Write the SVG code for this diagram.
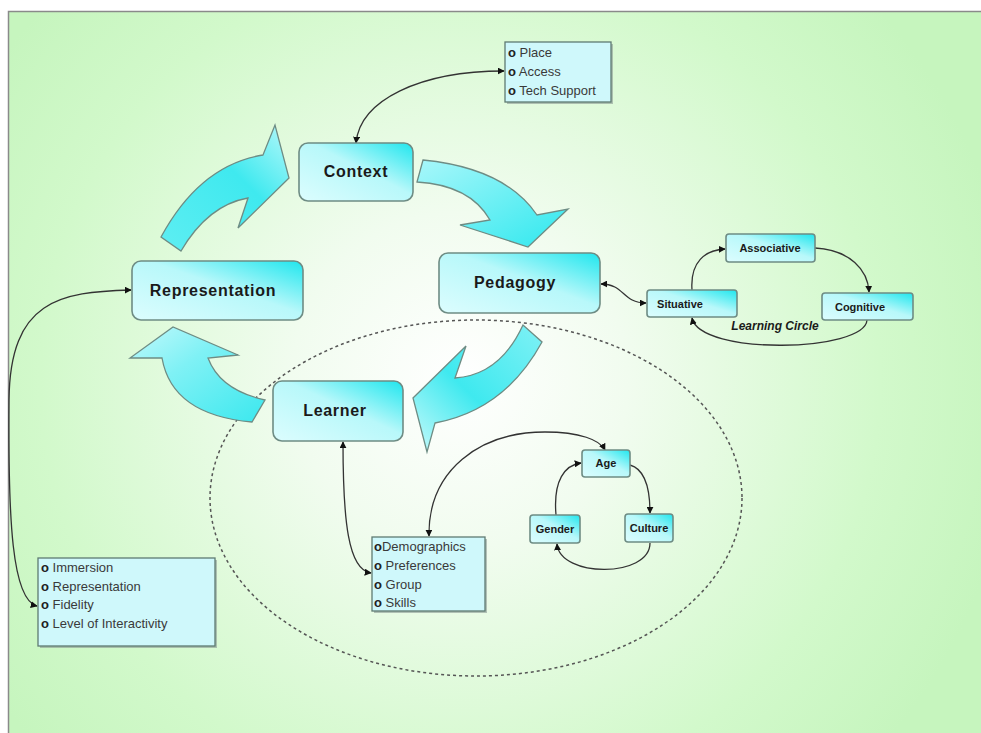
<svg xmlns="http://www.w3.org/2000/svg" width="981" height="733" viewBox="0 0 981 733">
<defs>
<radialGradient id="bg" cx="460" cy="380" r="560" gradientUnits="userSpaceOnUse">
<stop offset="0" stop-color="#ffffff"/>
<stop offset="0.3" stop-color="#f1fcef"/>
<stop offset="0.75" stop-color="#d2f9cb"/>
<stop offset="1" stop-color="#c6f5be"/>
</radialGradient>
<linearGradient id="box" x1="0" y1="1" x2="1" y2="0">
<stop offset="0" stop-color="#dcfdfe"/>
<stop offset="0.55" stop-color="#b8f8fa"/>
<stop offset="1" stop-color="#1fe6ee"/>
</linearGradient>
<linearGradient id="arrA" x1="0" y1="1" x2="1" y2="0">
<stop offset="0" stop-color="#5eeef2"/>
<stop offset="0.6" stop-color="#3fe9ef"/>
<stop offset="1" stop-color="#b5f8fa"/>
</linearGradient>
<linearGradient id="arrB" x1="0" y1="0" x2="1" y2="1">
<stop offset="0" stop-color="#a8f7fa"/>
<stop offset="1" stop-color="#2fe8ee"/>
</linearGradient>
<linearGradient id="arrC" x1="1" y1="0" x2="0" y2="1">
<stop offset="0" stop-color="#7ff1f5"/>
<stop offset="0.55" stop-color="#3fe9ef"/>
<stop offset="1" stop-color="#c8fafb"/>
</linearGradient>
<linearGradient id="arrD" x1="1" y1="1" x2="0" y2="0">
<stop offset="0" stop-color="#3be8ee"/>
<stop offset="0.6" stop-color="#7ff1f5"/>
<stop offset="1" stop-color="#c2f9fb"/>
</linearGradient>
<marker id="ah" viewBox="0 0 10 10" refX="9" refY="5" markerWidth="7" markerHeight="7" orient="auto-start-reverse" markerUnits="userSpaceOnUse">
<path d="M0,0 L10,5 L0,10 Z" fill="#111"/>
</marker>
<style>
.node{fill:url(#box);stroke:#6e8c84;stroke-width:1.6}
.big{font-family:"Liberation Sans",Arial,sans-serif;font-weight:bold;font-size:16px;fill:#1a1a1a;text-anchor:middle;letter-spacing:0.7px}
.small{font-family:"Liberation Sans",Arial,sans-serif;font-weight:bold;font-size:11px;fill:#1a1a1a;text-anchor:middle}
.list{fill:#cff8fb;stroke:#5f7a72;stroke-width:1.3}
.shadow{fill:#8a9a94;opacity:0.6}
.lt{font-family:"Liberation Sans",Arial,sans-serif;font-size:13px;fill:#3a3a3a}
.b{font-weight:bold;fill:#222}
.conn{fill:none;stroke:#333;stroke-width:1.3}
.barrow{stroke:#6e8c84;stroke-width:1.3}
</style>
</defs>
<rect x="0" y="0" width="981" height="733" fill="#ffffff"/>
<rect x="8" y="11" width="973" height="722" fill="url(#bg)"/>
<path d="M8.5 733 L8.5 11.5 L981 11.5" fill="none" stroke="#8a8a8a" stroke-width="1.5"/>

<ellipse cx="476" cy="498" rx="266" ry="178" fill="none" stroke="#555" stroke-width="1.5" stroke-dasharray="3,3"/>

<g id="block-arrows">
<path class="barrow" fill="url(#arrA)" d="M161 237 Q200 165 263 155 L275 125 L289 178 L238 228 L248 198 Q208 205 181 251 Z"/>
<path class="barrow" fill="url(#arrB)" d="M423 160 Q505 168 537 215 L568 209 L528 247 L460 225 L490 220 Q470 185 417 182 Z"/>
<path class="barrow" fill="url(#arrC)" d="M523 325 Q500 375 455 378 L466 346 L413 398 L427 452 L435 423 Q505 410 542 342 Z"/>
<path class="barrow" fill="url(#arrD)" d="M265 400 Q220 390 208 358 L238 355 L173 327 L130 358 L162 358 Q172 415 252 422 Z"/>
</g>

<g id="connectors">
<path class="conn" d="M356 143 C360 100 420 71 504 71" marker-start="url(#ah)" marker-end="url(#ah)"/>
<path class="conn" d="M131 290 C60 292 10 300 9 400 C8 520 12 600 37 606" marker-start="url(#ah)" marker-end="url(#ah)"/>
<path class="conn" d="M343 442 C343 520 348 570 371 573" marker-start="url(#ah)" marker-end="url(#ah)"/>
<path class="conn" d="M429 536 C428 470 480 432 545 432 C580 432 600 440 605 450" marker-start="url(#ah)" marker-end="url(#ah)"/>
<path class="conn" d="M601 284 C625 284 622 303 646 303" marker-start="url(#ah)" marker-end="url(#ah)"/>
<path class="conn" d="M692 290 C690 262 705 250 725 249" marker-end="url(#ah)"/>
<path class="conn" d="M815 248 C850 250 868 270 869 292" marker-end="url(#ah)"/>
<path class="conn" d="M867 320 C865 352 700 356 692 318" marker-end="url(#ah)"/>
<path class="conn" d="M556 515 C553 480 565 465 581 463" marker-end="url(#ah)"/>
<path class="conn" d="M630 465 C648 470 650 495 650 513" marker-end="url(#ah)"/>
<path class="conn" d="M650 543 C650 578 560 578 557 544" marker-end="url(#ah)"/>
</g>

<g id="context"><rect class="node" x="299" y="143" width="114" height="58" rx="9"/><text class="big" x="356" y="177">Context</text></g>
<g id="representation"><rect class="node" x="132" y="261" width="171" height="59" rx="9"/><text class="big" x="213" y="296">Representation</text></g>
<g id="pedagogy"><rect class="node" x="439" y="253" width="161" height="60" rx="9"/><text class="big" x="515" y="288">Pedagogy</text></g>
<g id="learner"><rect class="node" x="273" y="381" width="130" height="60" rx="9"/><text class="big" x="335" y="416">Learner</text></g>

<g id="associative"><rect class="node" x="726" y="234" width="89" height="28" rx="3"/><text class="small" x="770" y="252">Associative</text></g>
<g id="situative"><rect class="node" x="647" y="290" width="90" height="27" rx="3"/><text class="small" x="680" y="308">Situative</text></g>
<g id="cognitive"><rect class="node" x="822" y="293" width="91" height="27" rx="3"/><text class="small" x="860" y="311">Cognitive</text></g>
<text id="learning-circle" x="775" y="330" font-family="Liberation Sans, Arial, sans-serif" font-size="12px" font-weight="bold" font-style="italic" fill="#1a1a1a" text-anchor="middle">Learning Circle</text>

<g id="age"><rect class="node" x="582" y="450" width="48" height="27" rx="3"/><text class="small" x="606" y="467">Age</text></g>
<g id="gender"><rect class="node" x="530" y="515" width="50" height="28" rx="3"/><text class="small" x="555" y="533">Gender</text></g>
<g id="culture"><rect class="node" x="625" y="514" width="48" height="28" rx="3"/><text class="small" x="649" y="532">Culture</text></g>

<g id="context-list">
<rect class="shadow" x="507" y="44" width="106" height="60"/>
<rect class="list" x="505" y="42" width="106" height="60"/>
<text class="lt" x="508" y="57"><tspan class="b">o</tspan> Place</text>
<text class="lt" x="508" y="76"><tspan class="b">o</tspan> Access</text>
<text class="lt" x="508" y="95"><tspan class="b">o</tspan> Tech Support</text>
</g>
<g id="representation-list">
<rect class="shadow" x="40" y="560" width="177" height="88"/>
<rect class="list" x="38" y="558" width="177" height="88"/>
<text class="lt" x="41" y="572"><tspan class="b">o</tspan> Immersion</text>
<text class="lt" x="41" y="591"><tspan class="b">o</tspan> Representation</text>
<text class="lt" x="41" y="609"><tspan class="b">o</tspan> Fidelity</text>
<text class="lt" x="41" y="628"><tspan class="b">o</tspan> Level of Interactivity</text>
</g>
<g id="learner-list">
<rect class="shadow" x="374" y="539" width="113" height="74"/>
<rect class="list" x="372" y="537" width="113" height="74"/>
<text class="lt" x="374" y="551"><tspan class="b">o</tspan>Demographics</text>
<text class="lt" x="374" y="570"><tspan class="b">o</tspan> Preferences</text>
<text class="lt" x="374" y="589"><tspan class="b">o</tspan> Group</text>
<text class="lt" x="374" y="607"><tspan class="b">o</tspan> Skills</text>
</g>
</svg>
